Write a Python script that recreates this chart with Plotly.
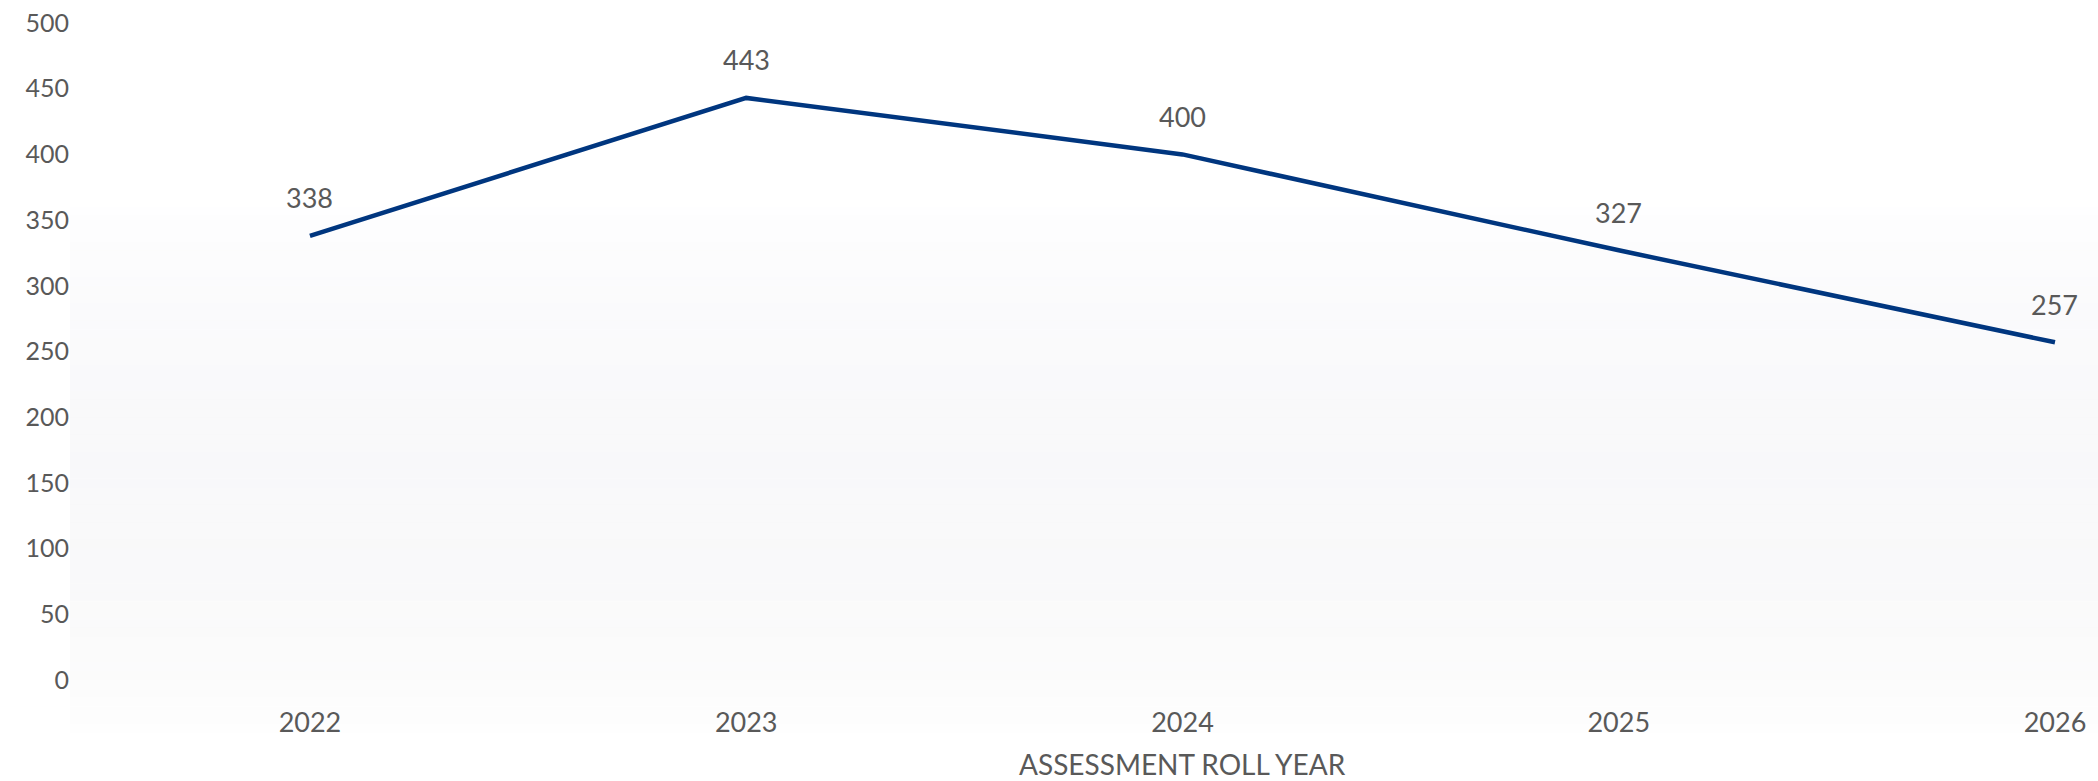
import math
import plotly.graph_objects as go

years = ["2022", "2023", "2024", "2025", "2026"]
values = [338, 443, 400, 327, 257]
y_ticks = [0, 50, 100, 150, 200, 250, 300, 350, 400, 450, 500]
x_title = "ASSESSMENT ROLL YEAR"

FONT = "Lato, 'Open Sans', sans-serif"
TXT = "#595959"
LINE = "#00367F"

fig = go.Figure()
fig.add_trace(go.Scatter(
    x=years, y=values, mode="lines",
    line=dict(color=LINE, width=4.5),
    hoverinfo="x+y", showlegend=False,
))

for i, v in enumerate(values):
    fig.add_annotation(x=i, xref="x", y=v, yref="y", text=str(v), showarrow=False,
                       yshift=38, font=dict(family=FONT, size=27, color=TXT))

fig.add_annotation(x=2, xref="x", y=0, yref="paper", yanchor="middle",
                   yshift=-84, text=x_title, showarrow=False,
                   font=dict(family=FONT, size=28, color=TXT))

# soft faded backdrop: smooth vertical gradient made of thin bands
N = 60
y_lo, y_hi = -0.08, 0.72
for k in range(N):
    a = y_lo + (y_hi - y_lo) * k / N
    b = y_lo + (y_hi - y_lo) * (k + 1) / N
    m = (a + b) / 2
    t = (m - y_lo) / (y_hi - y_lo)
    alpha = 0.065 * math.sin(math.pi * t) ** 0.6
    r = int(150 + 10 * t)
    g = int(150 + 10 * t)
    bl = int(150 + 50 * t)
    fig.add_shape(type="rect", xref="paper", yref="paper", x0=0.0, x1=1,
                  y0=a, y1=b, fillcolor=f"rgba({r},{g},{bl},{alpha:.4f})",
                  line=dict(width=0), layer="below")

fig.update_layout(
    width=2098, height=781,
    margin=dict(l=70, r=0, t=23, b=101),
    paper_bgcolor="white", plot_bgcolor="rgba(0,0,0,0)",
    font=dict(family=FONT, color=TXT),
    xaxis=dict(type="category", range=[-0.550, 4.0986], showgrid=False,
               zeroline=False, showline=False, ticks="",
               tickfont=dict(family=FONT, size=27, color=TXT),
               ticklabelstandoff=24),
    yaxis=dict(range=[0, 500], tickvals=y_ticks, showgrid=False,
               zeroline=False, showline=False, ticks="",
               tickfont=dict(family=FONT, size=25, color=TXT)),
)

fig.write_html("out.html")
